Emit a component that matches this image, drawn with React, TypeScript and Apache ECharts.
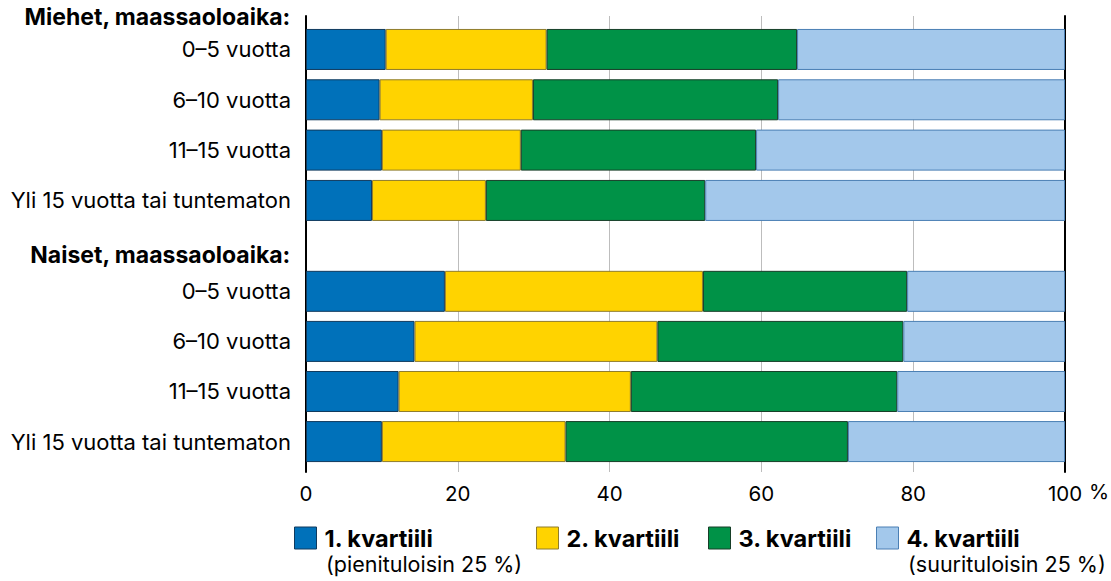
import React, { useEffect, useRef } from "react";
import * as echarts from "echarts";

const groupTitles = ["Miehet, maassaoloaika:", "Naiset, maassaoloaika:"];
const categories = ["0–5 vuotta", "6–10 vuotta", "11–15 vuotta", "Yli 15 vuotta tai tuntematon"];
const quartileNames = ["1. kvartiili", "2. kvartiili", "3. kvartiili", "4. kvartiili"];
const quartileNotes = ["(pienituloisin 25 %)", "", "", "(suurituloisin 25 %)"];
const xTicks = [0, 20, 40, 60, 80, 100];

// Men, per quartile (share %), categories in order
const menQ1 = [10.5, 9.7, 10.0, 8.7];
const menQ2 = [21.2, 20.2, 18.3, 15.0];
const menQ3 = [33.0, 32.3, 31.0, 28.9];
const menQ4 = [35.3, 37.8, 40.7, 47.4];
// Women
const womenQ1 = [18.3, 14.3, 12.2, 10.0];
const womenQ2 = [34.0, 32.0, 30.6, 24.2];
const womenQ3 = [26.9, 32.4, 35.1, 37.2];
const womenQ4 = [20.8, 21.3, 22.1, 28.6];

const fills = ["#0071BA", "#FFD300", "#009247", "#A3C8EB"];
const borders = ["#103a5e", "#8f7c2c", "#173e28", "#4a7fb4"];

const FONT = "Inter";

export default function App() {
  const ref = useRef<HTMLDivElement>(null);
  useEffect(() => {
    if (!ref.current) return;
    const chart = echarts.init(ref.current, undefined, { renderer: "svg" });
    const L = 306;
    const R = 1111 - 1065;
    const groups = [
      [menQ1, menQ2, menQ3, menQ4],
      [womenQ1, womenQ2, womenQ3, womenQ4],
    ];
    const series: any[] = [];
    groups.forEach((g, gi) => {
      g.forEach((vals, qi) => {
        series.push({
          type: "bar",
          name: quartileNames[qi],
          stack: "g" + gi,
          xAxisIndex: gi + 1,
          yAxisIndex: gi + 2,
          barWidth: 41,
          data: vals,
          itemStyle: { color: fills[qi], borderColor: borders[qi], borderWidth: 1 },
          emphasis: { disabled: true },
        });
      });
    });
    const legends = quartileNames.map((n, i) => ({
      data: [n],
      left: [294, 536, 708, 876][i],
      top: 526,
      padding: 0,
      icon: "rect",
      itemWidth: 22,
      itemHeight: 22,
      selectedMode: false,
      itemStyle: { color: fills[i], borderColor: borders[i], borderWidth: 1 },
      textStyle: { fontFamily: FONT, fontSize: 23.5, fontWeight: "bold", color: "#000", padding: [0, 0, 0, 3] },
    }));
    chart.setOption({
      animation: false,
      grid: [
        { left: L, right: R, top: 16, height: 456 },
        { left: L, right: R, top: 24.3, height: 201.3 },
        { left: L, right: R, top: 266.3, height: 200.3 },
      ],
      xAxis: [
        {
          gridIndex: 0,
          type: "value",
          min: 0,
          max: 100,
          interval: 20,
          axisLine: { show: false },
          axisTick: { show: false },
          splitLine: { lineStyle: { color: "#bdbdbd", width: 1 } },
          axisLabel: {
            fontFamily: FONT,
            fontSize: 20.5,
            color: "#000",
            margin: 11,
            formatter: (v: number) => (xTicks.includes(v) ? String(v) : ""),
          },
        },
        { gridIndex: 1, type: "value", min: 0, max: 100, show: false },
        { gridIndex: 2, type: "value", min: 0, max: 100, show: false },
      ],
      yAxis: [
        {
          gridIndex: 0,
          type: "value",
          position: "left",
          axisLine: { show: true, lineStyle: { color: "#000", width: 2 } },
          axisLabel: { show: false },
          axisTick: { show: false },
          splitLine: { show: false },
        },
        {
          gridIndex: 0,
          type: "value",
          position: "right",
          axisLine: { show: true, lineStyle: { color: "#000", width: 2 } },
          axisLabel: { show: false },
          axisTick: { show: false },
          splitLine: { show: false },
        },
        ...[1, 2].map((gi) => ({
          gridIndex: gi,
          type: "category",
          inverse: true,
          data: categories,
          axisLine: { show: false },
          axisTick: { show: false },
          axisLabel: { fontFamily: FONT, fontSize: 22, color: "#000", margin: 15 },
        })),
      ],
      legend: legends,
      graphic: [
        {
          type: "text",
          right: 1111 - 291,
          top: 5,
          style: { text: groupTitles[0], font: `bold 23px ${FONT}`, fill: "#000" },
        },
        {
          type: "text",
          right: 1111 - 291,
          top: 243,
          style: { text: groupTitles[1], font: `bold 23px ${FONT}`, fill: "#000" },
        },
        {
          type: "text",
          left: 1089,
          top: 481,
          style: { text: "%", font: `20.5px ${FONT}`, fill: "#000" },
        },
        {
          type: "text",
          left: 326,
          top: 553,
          style: { text: quartileNotes[0], font: `21.5px ${FONT}`, fill: "#000" },
        },
        {
          type: "text",
          left: 908,
          top: 553,
          style: { text: quartileNotes[3], font: `21.5px ${FONT}`, fill: "#000" },
        },
      ],
      series,
    });
    return () => chart.dispose();
  }, []);
  return (
    <div
      ref={ref}
      style={{ position: "fixed", left: 0, top: 0, width: 1111, height: 581, background: "#fff" }}
    />
  );
}
